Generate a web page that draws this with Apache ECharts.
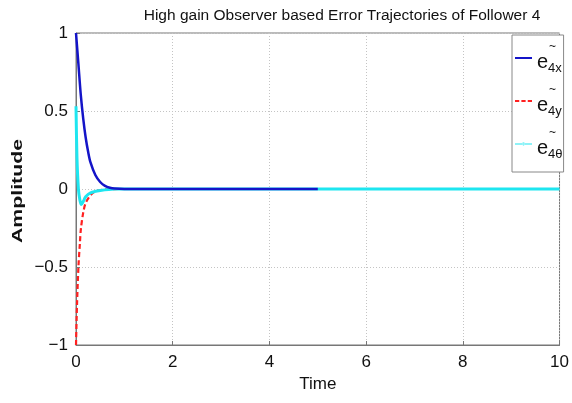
<!DOCTYPE html>
<html>
<head>
<meta charset="utf-8">
<script src="https://cdn.jsdelivr.net/npm/echarts@6/dist/echarts.min.js"></script>
<style>
  html, body { margin: 0; padding: 0; background: #fff; }
  #chart { width: 572px; height: 403px; }
</style>
</head>
<body>
<div id="chart"></div>
<script>
// Estimation error trajectories of follower 4 (high-gain observer)
const xTicks = [0, 2, 4, 6, 8, 10];
const yTicks = [-1, -0.5, 0, 0.5, 1];

// e~4x
const exTime = [0, 0.05, 0.1, 0.15, 0.2, 0.25, 0.3, 0.4, 0.5, 0.6, 0.7, 0.8, 1, 2, 3, 4, 5];
const exVal  = [1, 0.8, 0.6, 0.45, 0.33, 0.24, 0.17, 0.09, 0.045, 0.02, 0.008, 0.003, 0, 0, 0, 0, 0];

// e~4y
const eyTime = [0, 0.02, 0.05, 0.08, 0.1, 0.15, 0.2, 0.3, 0.4, 0.6, 1, 10];
const eyVal  = [-1, -0.75, -0.5, -0.35, -0.26, -0.15, -0.09, -0.04, -0.015, -0.003, 0, 0];

// e~4θ
const etTime = [0, 0.02, 0.05, 0.08, 0.11, 0.15, 0.2, 0.3, 0.5, 0.8, 1, 10];
const etVal  = [0.53, 0.2, 0, -0.07, -0.1, -0.08, -0.05, -0.025, -0.01, 0, 0, 0];

const legendSubs = { x: '4x', y: '4y', t: '4\u03b8' };

const pairs = (t, v) => t.map((x, i) => [x, v[i]]);
const FONT = '"Liberation Sans", Arial, sans-serif';

const BLUE = '#1414c8', RED = '#ff2020', CYAN = '#1ee6f0';

// legend glyphs: solid line, dashed line, line with a dot
const ICON_SOLID = 'path://M0,0 L20,0 L20,2.4 L0,2.4 Z';
const ICON_DASH = 'path://M0,0 h5 v2.2 h-5 Z M7.5,0 h5 v2.2 h-5 Z M15,0 h5 v2.2 h-5 Z';
const ICON_DOT = 'path://M0,1 h20 v1.4 h-20 Z M8.3,1.7 a1.7,1.7 0 1,0 3.4,0 a1.7,1.7 0 1,0 -3.4,0 Z';

const chart = echarts.init(document.getElementById('chart'), null, { renderer: 'canvas' });

const axisCommon = {
  axisLine: { show: true, onZero: false, lineStyle: { color: '#777', width: 1 } },
  axisTick: { show: true, inside: true, length: 4, lineStyle: { color: '#777' } },
  splitLine: { show: true, lineStyle: { color: '#c4c4c4', type: [1, 2], width: 1 } },
  axisLabel: { color: '#111', fontSize: 17, fontFamily: FONT }
};

chart.setOption({
  animation: false,
  backgroundColor: '#fff',
  title: {
    text: 'High gain Observer based Error Trajectories of Follower 4',
    left: 337, top: 3, textAlign: 'center',
    textStyle: { fontSize: 15.5, fontWeight: 'normal', color: '#111', fontFamily: FONT }
  },
  grid: { left: 76, right: 7, top: 33, bottom: 58, show: true, borderColor: '#777', borderWidth: 1 },
  xAxis: Object.assign({}, axisCommon, {
    type: 'value', min: xTicks[0], max: xTicks[xTicks.length - 1], interval: 2,
    name: 'Time', nameLocation: 'middle', nameGap: 31,
    nameTextStyle: { fontSize: 17, color: '#111', fontFamily: FONT },
    axisLabel: Object.assign({}, axisCommon.axisLabel, { margin: 9 })
  }),
  yAxis: Object.assign({}, axisCommon, {
    type: 'value', min: yTicks[0], max: yTicks[yTicks.length - 1], interval: 0.5,
    axisLabel: Object.assign({}, axisCommon.axisLabel, {
      margin: 8,
      formatter: v => (v < 0 ? '\u2212' + Math.abs(v) : String(v))
    })
  }),
  graphic: [{
    type: 'text', x: 18, y: 191, rotation: Math.PI / 2, scaleX: 1.42,
    style: {
      text: 'Amplitude', fill: '#111', align: 'center', verticalAlign: 'middle',
      font: 'bold 15px "Liberation Sans", Arial, sans-serif'
    }
  }],
  legend: {
    orient: 'vertical', left: 512, top: 35,
    backgroundColor: '#fff', borderColor: '#888', borderWidth: 1,
    padding: [6, 1, 11, 3], itemGap: 9, itemWidth: 17, itemHeight: 8,
    itemStyle: { borderWidth: 0 },
    data: [
      { name: 'x', icon: ICON_SOLID },
      { name: 'y', icon: ICON_DASH },
      { name: 't', icon: ICON_DOT }
    ],
    formatter: name => '{t|~}\n{e|e}{s|' + legendSubs[name] + '}',
    textStyle: {
      fontFamily: FONT, color: '#111',
      rich: {
        t: { fontSize: 12, fontFamily: FONT, color: '#111', lineHeight: 10, padding: [0, 0, 0, 12] },
        e: { fontSize: 20, fontFamily: FONT, color: '#111', lineHeight: 22, verticalAlign: 'top' },
        s: { fontSize: 13, fontFamily: FONT, color: '#111', lineHeight: 13, padding: [10, 0, 0, 0], verticalAlign: 'top' }
      }
    }
  },
  series: [
    {
      name: 'x', type: 'line', data: pairs(exTime, exVal), smooth: 0.3,
      symbol: 'none', z: 4,
      lineStyle: { color: BLUE, width: 2.5 }, itemStyle: { color: BLUE }
    },
    {
      name: 'y', type: 'line', data: pairs(eyTime, eyVal), smooth: 0.3,
      symbol: 'none', z: 2,
      lineStyle: { color: RED, width: 2.2, type: [5, 3] }, itemStyle: { color: RED }
    },
    {
      name: 't', type: 'line', data: pairs(etTime, etVal), smooth: 0.3,
      symbol: 'none', z: 3,
      lineStyle: { color: CYAN, width: 3 }, itemStyle: { color: CYAN }
    }
  ]
});
</script>
</body>
</html>
